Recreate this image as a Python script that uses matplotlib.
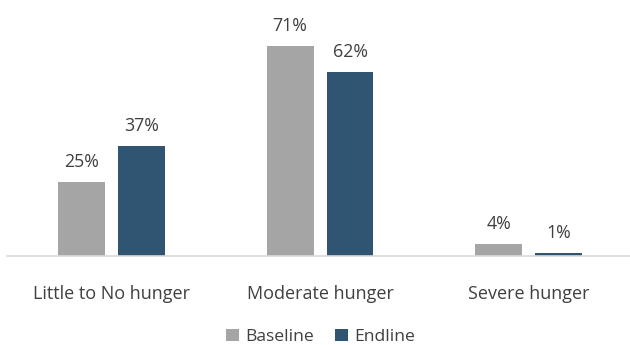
import matplotlib
matplotlib.use("Agg")
import matplotlib.pyplot as plt
import numpy as np

categories = ["Little to No hunger", "Moderate hunger", "Severe hunger"]
baseline = [25, 71, 4]
endline = [37, 62, 1]
series_names = ["Baseline", "Endline"]
colors = ["#A5A5A5", "#2F5572"]
text_color = "#404040"

plt.rcParams['font.family'] = ['Open Sans', 'DejaVu Sans']

fig = plt.figure(figsize=(6.3, 3.45), dpi=100)
ax = fig.add_axes([7/630, (345-256)/345, 623/630, 246/345])

x = np.arange(len(categories))
w = 0.225
off = 0.1435
b1 = ax.bar(x - off, baseline, w, color=colors[0], label=series_names[0])
b2 = ax.bar(x + off, endline, w, color=colors[1], label=series_names[1])

for bars, vals in ((b1, baseline), (b2, endline)):
    for r, v in zip(bars, vals):
        ax.text(r.get_x() + r.get_width()/2, r.get_height() + 3.7, f"{v}%",
                ha="center", va="bottom", fontsize=12.8, color=text_color)

ax.set_xlim(-0.5, 2.485)
ax.set_ylim(0, 83)
ax.set_yticks([])
ax.set_xticks(x)
ax.set_xticklabels(categories, fontsize=13, color=text_color)
ax.tick_params(axis='x', length=0, pad=21)
for s in ["top", "right", "left"]:
    ax.spines[s].set_visible(False)
ax.spines["bottom"].set_color("#D9D9D9")
ax.spines["bottom"].set_linewidth(1.2)

fig.legend(handles=[b1, b2], labels=series_names, loc="center",
           bbox_to_anchor=(321/630, 1 - 337/345), ncol=2, frameon=False,
           fontsize=12.6, handlelength=0.7, handleheight=0.7, columnspacing=1.2,
           handletextpad=0.4, labelcolor=text_color)

fig.savefig("out.png", dpi=100)
